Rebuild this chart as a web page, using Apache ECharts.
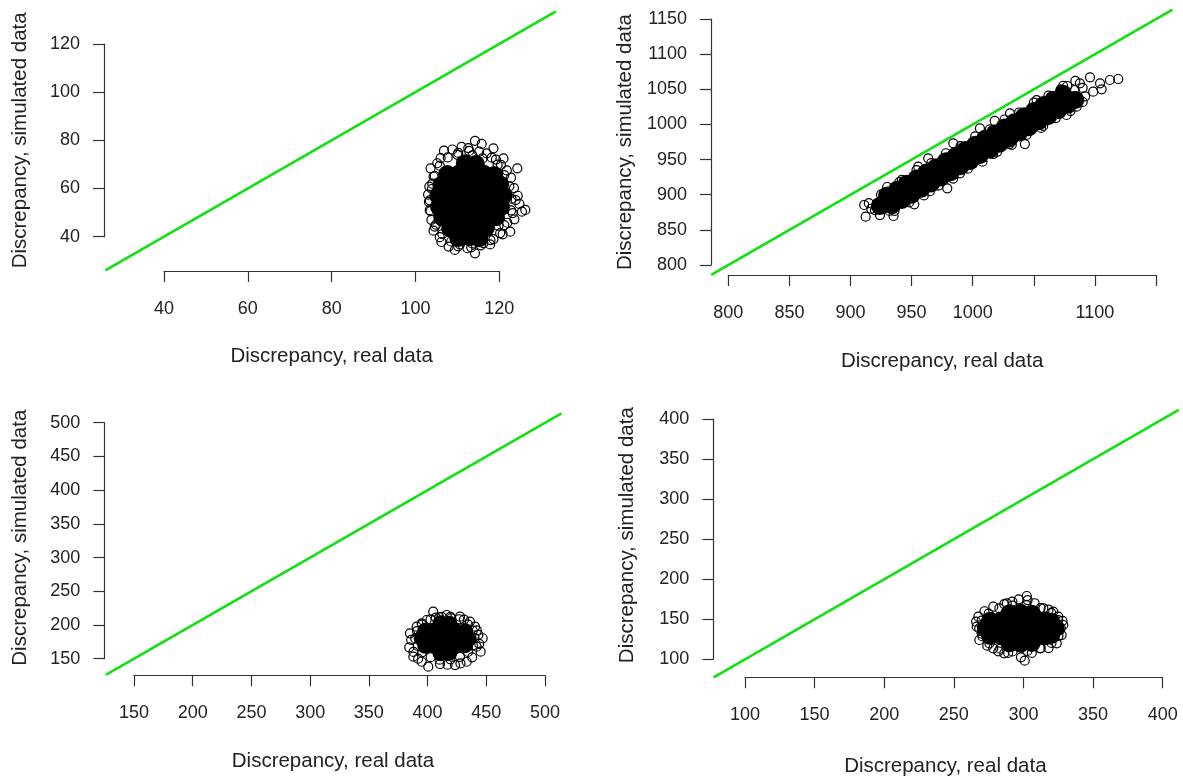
<!DOCTYPE html>
<html>
<head>
<meta charset="utf-8">
<script src="https://cdn.jsdelivr.net/npm/echarts@6/dist/echarts.min.js"></script>
<style>
  html, body { margin: 0; padding: 0; background: #fff; }
  #main { width: 1183px; height: 778px; }
</style>
</head>
<body>
<div id="main"></div>
<script>
// ---- data ----
// panel 1 (top left)
var p1Ticks = [40, 120, 20];
var p1Diag = [26, 133.5];
var p1Core = [
  [111.8, 70.5], [114.4, 70.2],
  [107.6, 66], [110.5, 66.3], [113.4, 65.8], [116.3, 66.1], [118.8, 65.6],
  [106.2, 61.5], [109.0, 61.8], [111.9, 61.2], [114.8, 61.6], [117.7, 61.3], [120.2, 61.7],
  [105.4, 57], [107.6, 56.6], [110.5, 57.3], [113.4, 56.8], [116.3, 57.2], [119.2, 56.7], [121.0, 57.1],
  [105.6, 52.5], [109.0, 52.2], [111.9, 52.8], [114.8, 52.4], [117.7, 52.7], [120.4, 52.3],
  [106.4, 48], [108.2, 48.3], [110.5, 47.7], [113.4, 48.2], [116.3, 47.8], [119.2, 48.1],
  [108.3, 43.5], [111.0, 43.8], [113.9, 43.3], [116.8, 43.7],
  [110.2, 39.5], [113.0, 39.8], [115.2, 39.4]
];
var p1Outer = [
  [106.8, 75.7], [108.8, 76.2], [111, 77.3], [112.6, 76.8], [114.2, 79.8], [115.8, 78.5], [117, 74.6],
  [118.6, 76.7], [110.0, 74.0], [113.6, 73.8], [116.0, 72.5],
  [119.2, 72.0], [121, 72.5], [121.8, 67.5], [120.4, 69.8], [124.3, 68.4], [122.8, 64.5],
  [123.5, 60.2], [124.4, 57.0], [124.8, 53.6], [123.9, 55.2], [126.2, 51.1], [125.4, 50.4], [123.2, 49.8], [123.6, 47.2],
  [122.6, 42.1], [121.2, 44.8], [120.8, 41.0], [119.8, 44.5], [118.6, 39.0], [116.2, 37.3], [117.8, 36.8],
  [114.2, 33.1], [112.4, 35.2], [109.4, 34.5], [110.6, 36.8], [107.9, 35.9], [113.5, 37.2], [106.2, 37.8],
  [105.8, 39.8], [104.3, 42.5], [103.8, 47.0], [104.6, 44.2],
  [103.2, 54.5], [103.0, 57.5], [103.4, 51.0], [104.0, 62.0], [104.6, 65.2], [103.6, 68.4], [105.2, 70.5],
  [106.0, 72.6], [103.9, 59.8],
  [122.9, 55.8], [122.4, 60.9], [121.2, 65.6], [119.6, 69.9], [118.2, 72.8], [115.2, 75.3], [112.8, 75.6],
  [110.2, 74.8], [107.7, 72.9], [105.8, 69.5], [104.3, 65.0], [103.3, 60.8], [103.4, 55.1], [103.6, 50.6],
  [104.9, 45.0], [106.4, 41.1], [108.5, 38.0], [110.2, 36.0], [113.3, 35.6], [115.6, 36.4], [117.9, 38.6],
  [120.2, 41.5], [121.9, 45.8], [122.8, 50.9]
];

// panel 2 (top right)
var p2Ticks = [800, 1150, 50];
var p2XHidden = [1050, 1150];
var p2Diag = [786, 1163.5];
var p2Core = [
  [924, 884], [928, 888],
  [930, 899], [938, 907], [946, 915.5], [954, 923], [962, 931.5], [970, 939], [978, 947.5], [986, 955],
  [994, 963.5], [1002, 971], [1010, 979.5], [1018, 987], [1026, 995.5], [1034, 1003], [1042, 1011.5],
  [1050, 1019], [1058, 1027.5], [1066, 1035], [1074, 1043.5],
  [934, 885], [942, 892.5], [950, 900], [958, 908.5], [966, 916], [974, 924.5], [982, 932], [990, 940.5],
  [998, 948], [1006, 956.5], [1014, 964], [1022, 972.5], [1030, 980], [1038, 988.5], [1046, 996],
  [1054, 1004.5], [1062, 1012], [1070, 1020.5], [1078, 1028], [1084, 1035]
];
var p2Outer = [
  [911.2, 885.4], [912.4, 868.7], [920, 878.2], [924.1, 871.1], [929.6, 892.5], [935.2, 869.7], [917, 880], [915, 888], [927, 880], [932, 877],
  [952.2, 886.3], [979.2, 909.1], [951.4, 897.2], [989.6, 930.5], [1016.8, 957.9], [1042.7, 972.1], [1057.7, 997.8],
  [1076.8, 1013.4], [1085, 1025.2], [1000, 945], [965, 905], [1030, 972],
  [955.4, 939.9], [963.6, 951.8], [984.1, 973.1], [1005.9, 994.5], [1030.5, 1015.8], [1052.3, 1034.7], [940, 918],
  [925, 900], [1072, 1050], [1018, 1005],
  [1096, 1067], [1104.2, 1058.5], [1105.5, 1050], [1112.3, 1063.2], [1119.1, 1064.6], [1098.6, 1046.6],
  [1077.4, 1054.7], [1087.7, 1058.5], [1083.6, 1049], [1092, 1040], [1090, 1052],
  [930, 911], [942, 921], [954, 935], [966, 945], [978, 959], [990, 969], [1002, 983], [1014, 993],
  [1026, 1007], [1038, 1017], [1050, 1031], [1062, 1041], [1074, 1055], [1084, 1062],
  [936, 877], [948, 889], [960, 899], [972, 913], [984, 923], [996, 937], [1008, 947], [1020, 961],
  [1032, 971], [1044, 985], [1056, 995], [1068, 1009], [1080, 1019], [1090, 1032]
];

// panel 3 (bottom left)
var p3Ticks = [150, 500, 50];
var p3Diag = [126, 514];
var p3Core = [
  [411, 202.6], [418.5, 201.8],
  [398, 191.4], [406.5, 192], [415, 191], [423.5, 191.8], [432, 190.6],
  [395, 180.3], [403.5, 179.6], [412, 180.8], [420.5, 180], [429, 180.6], [435, 179.5],
  [398, 169.2], [406.5, 168.6], [415, 169.6], [423.5, 169], [432, 170],
  [411, 158], [418.5, 158.8]
];
var p3Outer = [
  [404.8, 219.7], [385, 187.7], [384.4, 166.9], [446.9, 180.3], [445.2, 160.4], [400.6, 138.1], [423.4, 140.6],
  [395, 145.5], [440.4, 197.5], [399.2, 207.4], [390.7, 197.5], [427.6, 212.3], [436.1, 204.9], [387.9, 153],
  [410.6, 142.1], [433.3, 145.5], [441.8, 167.8], [443.2, 185.2], [416.3, 214.8], [395, 202.5], [412, 212],
  [420, 210], [386, 178], [388, 160], [392, 150], [417, 141], [428, 143], [438, 152], [444, 172], [442, 192],
  [431, 208], [407, 211],
  [440, 181], [438.5, 191.5], [434.3, 201], [427, 208.5], [419.5, 212], [410, 211.5], [402.5, 208.3],
  [395.2, 200.5], [391, 191], [389.5, 180], [391.6, 169], [395.3, 159.5], [402.6, 152.3], [410.2, 148.5],
  [419.4, 149.1], [427.6, 152.8], [434.4, 160], [438.6, 169.8]
];

// panel 4 (bottom right)
var p4Ticks = [100, 400, 50];
var p4Diag = [77.5, 411.5];
var p4Core = [
  [290, 157.4], [298, 158], [306, 157],
  [276, 148.1], [284, 148.6], [292, 147.8], [300, 148.4], [308, 147.6], [316, 148.2], [320, 147],
  [273, 138.7], [280, 139.2], [288, 138.4], [296, 139], [304, 138.2], [312, 138.9], [320, 138.3], [323, 139.5],
  [276, 129.3], [284, 128.8], [292, 129.6], [300, 129], [308, 129.8], [316, 129.2], [320, 130.5],
  [290, 120], [298, 119.4], [306, 120.4]
];
var p4Outer = [
  [286.2, 168.9], [286.2, 107.5], [302.4, 179], [303, 174], [300.9, 98.3], [298.2, 102.5], [328.6, 142.8],
  [321.4, 159.4], [296.6, 174.9], [266.4, 140.7], [267.6, 153.2], [268.3, 124.1], [278.3, 113.7], [311.9, 113.7],
  [323.9, 120], [327.4, 130.3], [325, 153.2], [288, 169.9], [278.3, 165.7], [314.3, 163.7], [272, 160], [270, 132],
  [274, 117], [289, 108], [306, 108], [318, 114], [326, 136], [328, 148], [318, 162], [308, 170], [292, 172],
  [282, 110], [266, 147],
  [326.8, 139], [325, 149], [320, 157.6], [312.3, 164], [302.2, 167.6], [292.1, 167], [282.7, 163.5],
  [275, 157], [270, 148.3], [268.2, 138.5], [270.5, 128.5], [275.6, 119.8], [283.3, 113.2], [292.2, 109.8],
  [302.8, 110.4], [312.4, 113.9], [320.1, 120.5], [325.1, 129.2]
];

var xTitle = 'Discrepancy, real data';
var yTitle = 'Discrepancy, simulated data';

// ---- layout ----
var FONT = "'Liberation Sans', Arial, Helvetica, sans-serif";
var INK = '#222';
var LINE = '#333';
var GREEN = '#11e011';

var grids = [
  { left: 164, top: 44, width: 335.3, height: 192.7 },
  { left: 728.3, top: 19, width: 427.7, height: 246 },
  { left: 134, top: 422.7, width: 411, height: 236 },
  { left: 745, top: 419, width: 417.7, height: 240.3 }
];
// axis line offsets (R draws them at the edge of the plot region)
var xOffsets = [34.3, 10, 16.6, 18];
var yOffsets = [60, 17.3, 29.7, 31.7];
var xNameGaps = [75, 76, 76, 79];
var yNameGaps = [73, 75, 73, 75];
var xTitlePad = [[0, 0, 0, 0], [0, 0, 0, 0], [0, 13, 0, 0], [0, 17, 0, 0]];
var yTitlePad = [[0, 0, 0, 0], [0, 0, 0, 0], [0, 0, 0, 6], [0, 0, 0, 8]];

function axisCommon(ticks) {
  return {
    type: 'value',
    min: ticks[0],
    max: ticks[1],
    interval: ticks[2],
    nameLocation: 'middle',
    nameTextStyle: { fontSize: 20.5, color: INK, fontFamily: FONT },
    axisLine: { show: true, onZero: false, lineStyle: { color: LINE, width: 1.2 } },
    axisTick: { show: true, length: 11, lineStyle: { color: LINE, width: 1.2 } },
    splitLine: { show: false }
  };
}

var allTicks = [p1Ticks, p2Ticks, p3Ticks, p4Ticks];
var xAxes = allTicks.map(function (t, i) {
  var a = axisCommon(t);
  a.gridIndex = i;
  a.position = 'bottom';
  a.offset = xOffsets[i];
  a.name = xTitle;
  a.nameGap = xNameGaps[i];
  a.nameTextStyle.padding = xTitlePad[i];
  a.axisLabel = {
    fontSize: 18, color: INK, fontFamily: FONT, margin: 29,
    formatter: function (v) { return (i === 1 && p2XHidden.indexOf(v) >= 0) ? '' : String(v); }
  };
  return a;
});
var yAxes = allTicks.map(function (t, i) {
  var a = axisCommon(t);
  a.gridIndex = i;
  a.position = 'left';
  a.offset = yOffsets[i];
  a.name = yTitle;
  a.nameGap = yNameGaps[i];
  a.nameTextStyle.padding = yTitlePad[i];
  a.axisLabel = {
    fontSize: 18, color: INK, fontFamily: FONT, margin: 24,
    formatter: function (v) { return String(v); }
  };
  return a;
});

var cores = [p1Core, p2Core, p3Core, p4Core];
var outers = [p1Outer, p2Outer, p3Outer, p4Outer];
var diags = [p1Diag, p2Diag, p3Diag, p4Diag];
var coreSizes = [18, 18, 16, 18];

function renderDiag(params, api) {
  var a = api.coord([api.value(0), api.value(1)]);
  var b = api.coord([api.value(2), api.value(3)]);
  return {
    type: 'line',
    shape: { x1: a[0], y1: a[1], x2: b[0], y2: b[1] },
    style: { stroke: GREEN, lineWidth: 2.6 }
  };
}

var series = [];
for (var i = 0; i < 4; i++) {
  series.push({
    type: 'scatter', xAxisIndex: i, yAxisIndex: i, clip: false,
    symbol: 'circle', symbolSize: coreSizes[i],
    itemStyle: { color: '#000', opacity: 1 },
    data: cores[i]
  });
  series.push({
    type: 'scatter', xAxisIndex: i, yAxisIndex: i, clip: false,
    symbol: 'circle', symbolSize: 9,
    itemStyle: { color: 'rgba(255,255,255,0)', borderColor: '#000', borderWidth: 1.2, opacity: 1 },
    data: outers[i]
  });
  // y = x reference line
  series.push({
    type: 'custom', xAxisIndex: i, yAxisIndex: i, clip: false,
    renderItem: renderDiag,
    data: [[diags[i][0], diags[i][0], diags[i][1], diags[i][1]]]
  });
}

var chart = echarts.init(document.getElementById('main'));
chart.setOption({
  animation: false,
  backgroundColor: '#ffffff',
  textStyle: { fontFamily: FONT },
  grid: grids.map(function (g) {
    return { left: g.left, top: g.top, width: g.width, height: g.height, containLabel: false, outerBoundsMode: 'none' };
  }),
  xAxis: xAxes,
  yAxis: yAxes,
  series: series
});
</script>
</body>
</html>
